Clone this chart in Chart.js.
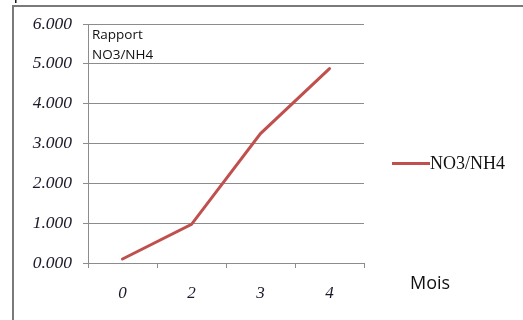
<!DOCTYPE html>
<html>
<head>
<meta charset="utf-8">
<script src="https://cdn.jsdelivr.net/npm/chart.js@4"></script>
<style>
  html, body { margin: 0; padding: 0; background: #fff; }
  #wrap { position: relative; width: 523px; height: 320px; overflow: hidden; }
  #chart { position: absolute; left: 0; top: 0; }
  .frame-left { position: absolute; left: 12px; top: 5px; width: 2px; height: 320px; background: #7a7a7a; }
  .frame-top { position: absolute; left: 12px; top: 5px; width: 520px; height: 2px; background: #7a7a7a; }
  .cut { position: absolute; left: 14px; top: -14px; font: 16px "Liberation Sans", sans-serif; color: #000; }
  .note { position: absolute; left: 92px; top: 24px; font: 13.5px "Open Sans", sans-serif; line-height: 20px; color: #111; }
  .mois { position: absolute; left: 410px; top: 270px; font: 18px "Open Sans", sans-serif; color: #111; }
  .legend { position: absolute; left: 392px; top: 151px; height: 24px; display: flex; align-items: center; }
  .legend .swatch { width: 38px; height: 3px; background: #C0504D; }
  .legend .txt { font: 18px "Liberation Serif", serif; color: #111; }
</style>
</head>
<body>
<div id="wrap">
  <canvas id="chart" width="523" height="320"></canvas>
  <div class="cut">p</div>
  <div class="frame-left"></div>
  <div class="frame-top"></div>
  <div class="note">Rapport<br>NO3/NH4</div>
  <div class="mois">Mois</div>
  <div class="legend"><div class="swatch"></div><div class="txt">NO3/NH4</div></div>
</div>
<script>
// Months sampled and the NO3/NH4 ratio measured at each
const months = ['0', '2', '3', '4'];
const ratio = [0.10, 0.97, 3.25, 4.88];
const yTicks = [0, 1, 2, 3, 4, 5, 6];

const gridGrey = '#8c8c8c';

new Chart(document.getElementById('chart'), {
  type: 'line',
  data: {
    labels: months,
    datasets: [{
      label: 'NO3/NH4',
      data: ratio,
      borderColor: '#C0504D',
      borderWidth: 3,
      pointRadius: 0,
      tension: 0,
      fill: false,
      borderCapStyle: 'round'
    }]
  },
  options: {
    responsive: false,
    animation: false,
    layout: { padding: { left: 0, right: 159, top: 24, bottom: 0 } },
    plugins: { legend: { display: false }, tooltip: { enabled: false } },
    scales: {
      x: {
        type: 'category',
        offset: true,
        afterFit: s => { s.height = 57; },
        grid: { offset: true, drawOnChartArea: false, drawTicks: true, tickLength: 5, color: gridGrey },
        border: { display: true, color: gridGrey, width: 1 },
        ticks: {
          padding: 15,
          color: '#1a1a2a',
          font: { family: 'Liberation Serif', style: 'italic', size: 17 }
        }
      },
      y: {
        min: 0,
        max: 6,
        afterFit: s => { s.width = 88; },
        afterBuildTicks: s => { s.ticks = yTicks.map(v => ({ value: v })); },
        grid: { color: gridGrey, lineWidth: 1, drawTicks: true, tickLength: 5 },
        border: { display: true, color: gridGrey, width: 1 },
        ticks: {
          padding: 11,
          color: '#1a1a2a',
          font: { family: 'Liberation Serif', style: 'italic', size: 17.5 },
          callback: v => v.toFixed(3)
        }
      }
    }
  }
});
</script>
</body>
</html>
